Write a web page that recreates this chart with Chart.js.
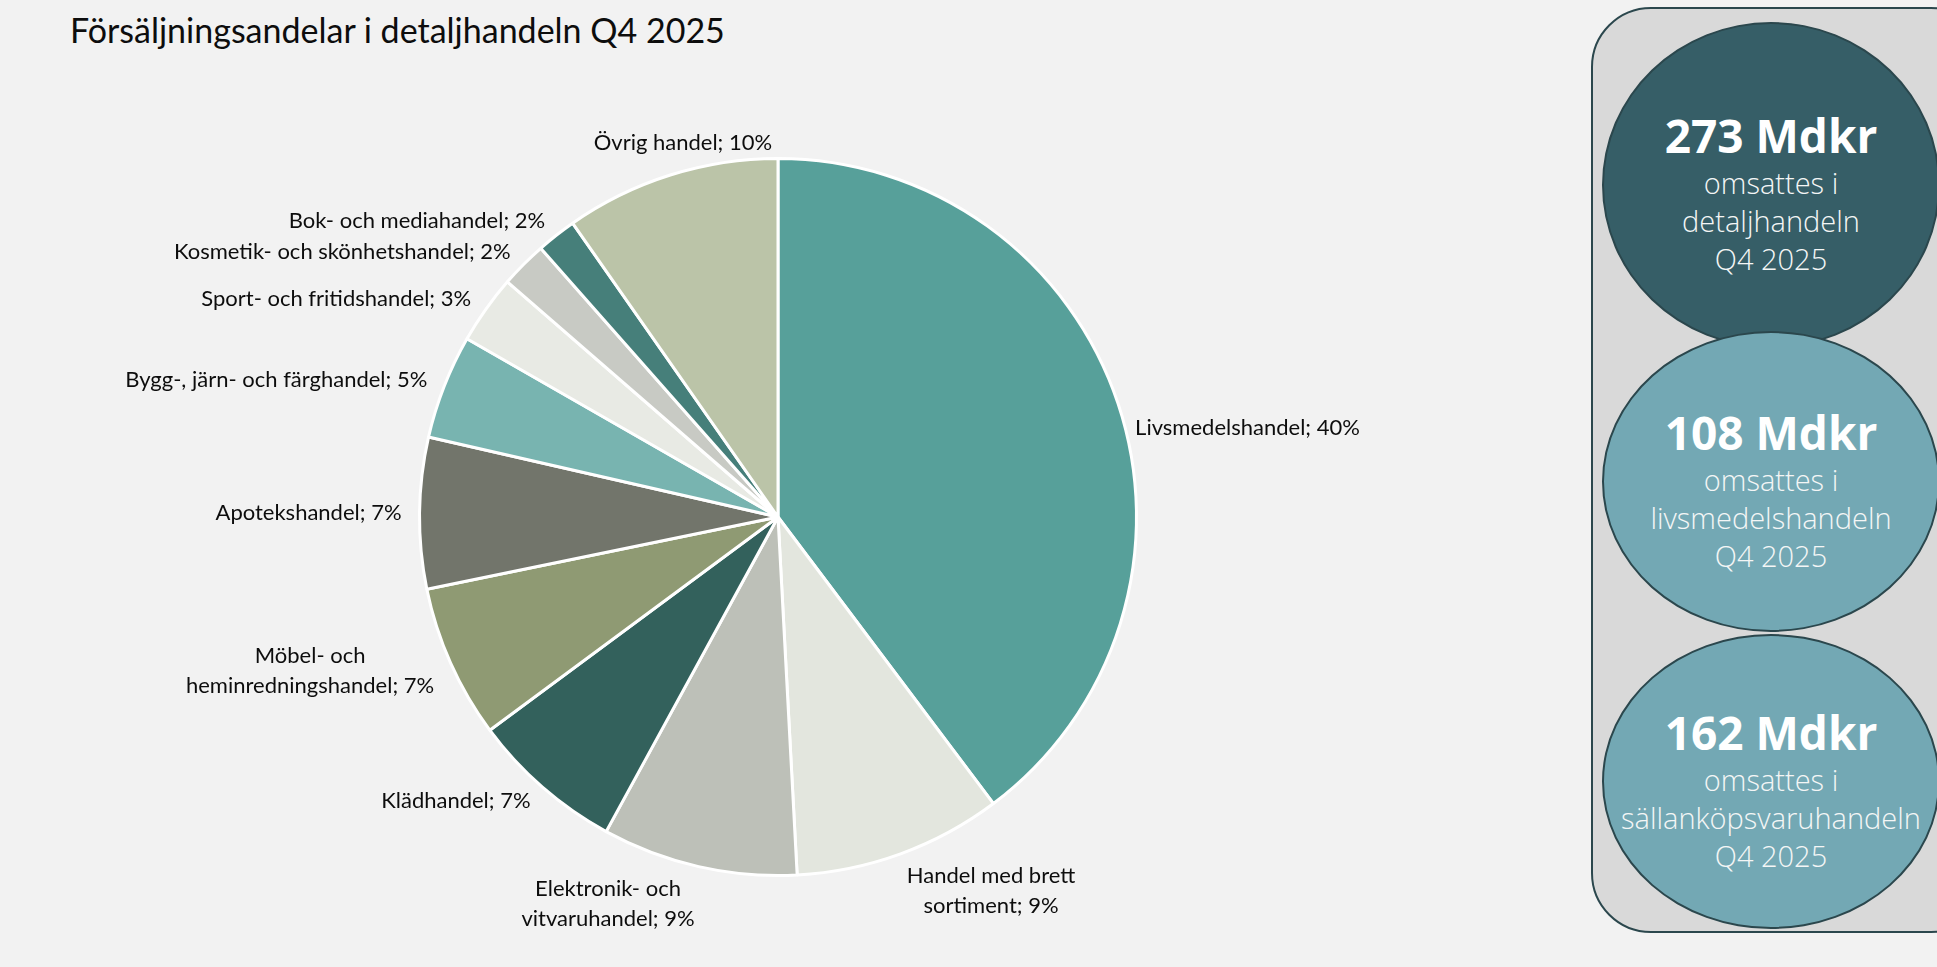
<!DOCTYPE html>
<html>
<head>
<meta charset="utf-8">
<title>Försäljningsandelar i detaljhandeln Q4 2025</title>
<script src="https://cdn.jsdelivr.net/npm/chart.js@4.4.0/dist/chart.umd.min.js"></script>
<style>
    html, body {
        margin: 0;
        padding: 0;
        background: #f2f2f2;
        width: 1937px;
        height: 967px;
        overflow: hidden;
    }
    #title {
        position: absolute;
        left: 70px;
        top: 9px;
        font-family: Lato, sans-serif;
        font-size: 34px;
        color: #0d0d0d;
        white-space: nowrap;
    }
    #chartBox {
        position: absolute;
        left: 0;
        top: 0;
        width: 1580px;
        height: 967px;
    }
    #panel {
        position: absolute;
        left: 1591px;
        top: 7px;
        width: 400px;
        height: 926px;
        box-sizing: border-box;
        background: #d9d9d9;
        border: 2px solid #2b474d;
        border-radius: 60px;
    }
    .bubble {
        position: absolute;
        left: 1602px;
        width: 338px;
        box-sizing: border-box;
        border-radius: 50%;
        border: 2px solid #2b474d;
        color: #fff;
        font-family: "Open Sans", sans-serif;
        text-align: center;
        display: flex;
        flex-direction: column;
        justify-content: center;
        padding-top: 14px;
    }
    .bubble .big {
        font-size: 46px;
        font-weight: 700;
        line-height: 58px;
    }
    .bubble .small {
        font-size: 29px;
        font-weight: 300;
        line-height: 38px;
        white-space: nowrap;
        color: #f4f6f6;
    }
</style>
</head>
<body>
<div id="title">Försäljningsandelar i detaljhandeln Q4 2025</div>
<div id="chartBox"><canvas id="pie"></canvas></div>
<div id="panel"></div>

<script>
// Kategorier och andelar (%), medurs från klockan 12
const categories = [
    'Livsmedelshandel',
    ['Handel med brett', 'sortiment'],
    ['Elektronik- och', 'vitvaruhandel'],
    'Klädhandel',
    ['Möbel- och', 'heminredningshandel'],
    'Apotekshandel',
    'Bygg-, järn- och färghandel',
    'Sport- och fritidshandel',
    'Kosmetik- och skönhetshandel',
    'Bok- och mediahandel',
    'Övrig handel'
];
const shares = [39.7, 9.4, 8.8, 6.9, 6.9, 6.8, 4.7, 3.1, 2.1, 1.8, 9.7];

// Rutan till höger
const summaryValues = ['273 Mdkr', '108 Mdkr', '162 Mdkr'];
const summaryTexts = [
    ['omsattes i', 'detaljhandeln', 'Q4 2025'],
    ['omsattes i', 'livsmedelshandeln', 'Q4 2025'],
    ['omsattes i', 'sällanköpsvaruhandeln', 'Q4 2025']
];

const sliceColors = ['#57a09a', '#e3e6de', '#bdc0b8', '#33615c', '#8f9a73', '#72756b',
    '#78b4b0', '#e8eae4', '#c8cac4', '#467f7a', '#bbc4a8'];
const bubbleColors = ['#365e67', '#73a8b4', '#73a8b4'];
const bubbleBoxes = [[22, 326], [331, 301], [634, 295]];

// bygg rutan
summaryValues.forEach(function (val, i) {
    let div = document.createElement('div');
    div.className = 'bubble';
    div.style.top = bubbleBoxes[i][0] + 'px';
    div.style.height = bubbleBoxes[i][1] + 'px';
    div.style.background = bubbleColors[i];
    let html = '<div class="big">' + val + '</div>';
    summaryTexts[i].forEach(function (t) {
        html += '<div class="small">' + t + '</div>';
    });
    div.innerHTML = html;
    document.body.appendChild(div);
});

// etiketter utanför tårtbitarna
const sliceLabels = {
    id: 'sliceLabels',
    afterDatasetsDraw(chart) {
        const ctx = chart.ctx;
        const meta = chart.getDatasetMeta(0);
        const lineH = 30;
        ctx.save();
        ctx.font = '22px Lato';
        ctx.fillStyle = '#0d0d0d';
        ctx.textAlign = 'center';
        ctx.textBaseline = 'middle';
        meta.data.forEach(function (arc, i) {
            let lines = [].concat(categories[i]);
            lines[lines.length - 1] += '; ' + Math.round(shares[i]) + '%';
            let mid = (arc.startAngle + arc.endAngle) / 2;
            let dx = Math.cos(mid), dy = Math.sin(mid);
            let r = arc.outerRadius + 18;
            let ax = arc.x + dx * r, ay = arc.y + dy * r;
            let w = Math.max.apply(null, lines.map(l => ctx.measureText(l).width));
            let h = lines.length * lineH;
            let left, top;
            if (dy < -0.9) {
                left = ax - w / 2 + 18;
            } else if (dx >= 0) {
                left = ax;
            } else {
                left = ax - w;
            }
            if (dy > 0.9) {
                top = ay - 10;
            } else if (dy < -0.9) {
                top = ay - h;
            } else if (dx >= 0) {
                // höger sida: Excel drar etiketten mot mittlinjen
                top = arc.y + dy * r * 0.75 - h / 2;
            } else {
                top = ay - h / 2;
            }
            lines.forEach(function (ln, k) {
                ctx.fillText(ln, left + w / 2, top + lineH * (k + 0.5));
            });
        });
        ctx.restore();
    }
};

new Chart(document.getElementById('pie'), {
    type: 'pie',
    data: {
        labels: categories,
        datasets: [{
            data: shares,
            backgroundColor: sliceColors,
            borderColor: '#ffffff',
            borderWidth: 3
        }]
    },
    options: {
        responsive: true,
        maintainAspectRatio: false,
        animation: false,
        layout: {
            padding: {left: 418, right: 442, top: 157, bottom: 90}
        },
        plugins: {
            legend: {display: false},
            tooltip: {enabled: false}
        }
    },
    plugins: [sliceLabels]
});
</script>
</body>
</html>
